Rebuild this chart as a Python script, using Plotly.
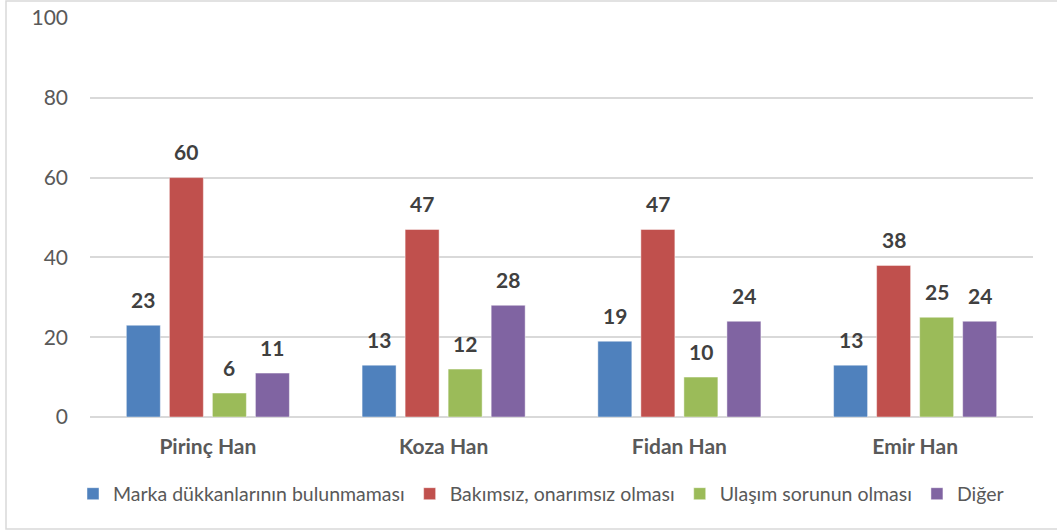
import plotly.graph_objects as go

# Survey results per han (percent)
categories = ["Pirinç Han", "Koza Han", "Fidan Han", "Emir Han"]
series_names = [
    "Marka dükkanlarının bulunmaması",
    "Bakımsız, onarımsız olması",
    "Ulaşım sorunun olması",
    "Diğer",
]
marka = [23, 13, 19, 13]
bakimsiz = [60, 47, 47, 38]
ulasim = [6, 12, 10, 25]
diger = [11, 28, 24, 24]
y_ticks = [0, 20, 40, 60, 80, 100]

series_values = [marka, bakimsiz, ulasim, diger]
colors = ["#4F81BD", "#C0504D", "#9BBB59", "#8064A2"]

FONT = "Lato"
TEXT_GRAY = "#595959"
LABEL_GRAY = "#404040"

W, H = 1057, 531
M_L, M_R, M_T, M_B = 90, 24, 18, 114
plot_w = W - M_L - M_R
plot_h = H - M_T - M_B

BARGAP = 0.27
GROUPGAP = 0.21

fig = go.Figure()
for name, vals, col in zip(series_names, series_values, colors):
    fig.add_trace(go.Bar(
        name=name,
        x=categories,
        y=vals,
        marker=dict(color=col, line=dict(color="rgba(255,255,255,0.45)", width=1)),
        hoverinfo="x+y+name",
    ))

# Value labels above each bar, offset horizontally to the bar's slot
cat_px = plot_w / len(categories)
slot_px = cat_px * (1 - BARGAP) / len(series_names)
annotations = []
for i, vals in enumerate(series_values):
    dx = (i - (len(series_names) - 1) / 2) * slot_px
    for c, v in zip(categories, vals):
        annotations.append(dict(
            x=c, y=v, xref="x", yref="y",
            text=f"<b>{v}</b>", showarrow=False,
            xshift=dx, yshift=26, yanchor="middle",
            font=dict(family=FONT, size=21, color=LABEL_GRAY),
        ))

# Outer chart border
shapes = [dict(
    type="rect", xref="paper", yref="paper",
    x0=(6 - M_L) / plot_w, x1=(W + 4 - M_L) / plot_w,
    y0=(plot_h + M_T - 529) / plot_h, y1=(plot_h + M_T - 1) / plot_h,
    line=dict(color="#D9D9D9", width=1.5), fillcolor="rgba(0,0,0,0)", layer="below",
)]

fig.update_layout(
    width=W, height=H,
    margin=dict(l=M_L, r=M_R, t=M_T, b=M_B, autoexpand=False),
    paper_bgcolor="white", plot_bgcolor="white",
    barmode="group", bargap=BARGAP, bargroupgap=GROUPGAP,
    font=dict(family=FONT, size=21, color=TEXT_GRAY),
    showlegend=True,
    legend=dict(
        orientation="h", x=(541 - M_L) / plot_w, xanchor="center",
        yref="container", y=1 - 494 / H, yanchor="middle",
        font=dict(family=FONT, size=19.5, color=TEXT_GRAY),
        itemwidth=30, traceorder="normal",
    ),
    annotations=annotations,
    shapes=shapes,
)
fig.update_xaxes(
    showgrid=False, showline=False, zeroline=False, automargin=False,
    tickfont=dict(family=FONT, size=21, color=TEXT_GRAY, weight="bold"),
    ticklabelstandoff=15,
)
fig.update_yaxes(
    range=[0, 100], tickvals=y_ticks, ticktext=[str(t) for t in y_ticks],
    showgrid=True, gridcolor="#D9D9D9", gridwidth=1.5, automargin=False,
    zeroline=True, zerolinecolor="#D9D9D9", zerolinewidth=1.5,
    showline=False, ticks="",
    tickfont=dict(family=FONT, size=21, color=TEXT_GRAY),
    ticklabelstandoff=21,
)

fig.write_html("out.html")
